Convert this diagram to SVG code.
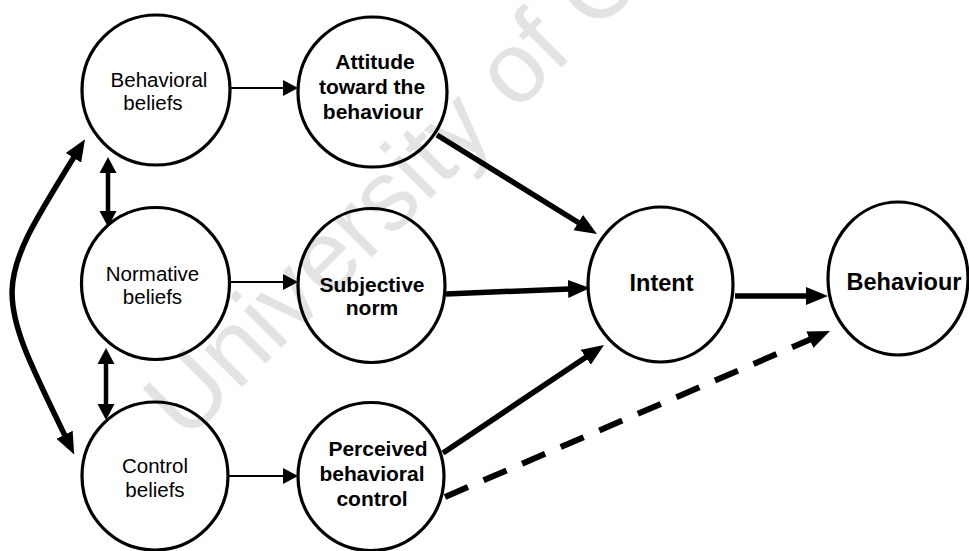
<svg xmlns="http://www.w3.org/2000/svg" width="969" height="551" viewBox="0 0 969 551">
<style>
.node ellipse{fill:none;stroke:#000;stroke-width:3.2}
.reg{font-family:"Liberation Sans",Arial,sans-serif;font-size:20.5px;fill:#000;text-anchor:middle}
.bold{font-family:"Liberation Sans",Arial,sans-serif;font-size:21px;font-weight:bold;fill:#000;text-anchor:middle}
.big{font-size:23.5px}
.thin{stroke:#000;stroke-width:2;fill:none;marker-end:url(#hs)}
.thick{stroke:#000;stroke-width:5.5;fill:none;marker-end:url(#hl)}
.dash{stroke-dasharray:25 17;stroke-width:6}
.dbl{stroke:#000;stroke-width:4.5;fill:none;marker-start:url(#hd);marker-end:url(#hd)}
.curve{stroke:#000;stroke-width:5.5;fill:none;marker-start:url(#hc);marker-end:url(#hc)}
.wm{font-family:"Liberation Sans",Arial,sans-serif;font-size:100px;fill:#e3e3e3}
</style>
<defs>
<marker id="hs" markerUnits="userSpaceOnUse" viewBox="0 -9 16 18" refX="1" refY="0" markerWidth="16" markerHeight="18" orient="auto"><path d="M0,-8 L15,0 L0,8 z"/></marker>
<marker id="hl" markerUnits="userSpaceOnUse" viewBox="0 -10 23 20" refX="1" refY="0" markerWidth="23" markerHeight="20" orient="auto"><path d="M0,-9 L22,0 L0,9 z"/></marker>
<marker id="hd" markerUnits="userSpaceOnUse" viewBox="0 -9 17 18" refX="1" refY="0" markerWidth="17" markerHeight="18" orient="auto-start-reverse"><path d="M0,-8.5 L16,0 L0,8.5 z"/></marker>
<marker id="hc" markerUnits="userSpaceOnUse" viewBox="0 -10 23 20" refX="1" refY="0" markerWidth="23" markerHeight="20" orient="auto-start-reverse"><path d="M0,-9 L22,0 L0,9 z"/></marker>
</defs>
<rect width="969" height="551" fill="#fff"/>
<text class="wm" transform="translate(186,443) rotate(-45)">University of C</text>

<g id="connectors">
<path class="thin" d="M229,88 H284"/>
<path class="thin" d="M229,282 H284"/>
<path class="thin" d="M227,476 H284"/>
<path class="thick" d="M437,135 L579.1,223"/>
<path class="thick" d="M446,294 L569,288.9"/>
<path class="thick" d="M443,453 L586.6,356.7"/>
<path class="thick" d="M735,296 H807"/>
<path class="thick dash" d="M445,497 L810.7,339.3"/>
<path class="dbl" d="M108,172 V212"/>
<path class="dbl" d="M106,363 V405"/>
<path class="curve" d="M74,157 C-7,288 -7,288 65,435.6"/>
</g>

<g id="behavioral-beliefs" class="node">
<ellipse cx="156" cy="90" rx="74" ry="75"/>
<text class="reg" x="159" y="87">Behavioral</text>
<text class="reg" x="153" y="110">beliefs</text>
</g>
<g id="normative-beliefs" class="node">
<ellipse cx="155.5" cy="283.5" rx="74" ry="76"/>
<text class="reg" x="152.5" y="281">Normative</text>
<text class="reg" x="152.5" y="304">beliefs</text>
</g>
<g id="control-beliefs" class="node">
<ellipse cx="155" cy="476" rx="73" ry="74"/>
<text class="reg" x="155" y="473">Control</text>
<text class="reg" x="155" y="497">beliefs</text>
</g>
<g id="attitude" class="node">
<ellipse cx="372.5" cy="92" rx="74.5" ry="75"/>
<text class="bold" x="375" y="69">Attitude</text>
<text class="bold" x="372" y="94">toward the</text>
<text class="bold" x="373" y="119">behaviour</text>
</g>
<g id="subjective-norm" class="node">
<ellipse cx="371.5" cy="285.5" rx="73.5" ry="77"/>
<text class="bold" x="372" y="292">Subjective</text>
<text class="bold" x="372" y="315">norm</text>
</g>
<g id="perceived-behavioral-control" class="node">
<ellipse cx="371" cy="476.5" rx="73" ry="74"/>
<text class="bold" x="378" y="456">Perceived</text>
<text class="bold" x="372" y="481">behavioral</text>
<text class="bold" x="372" y="506">control</text>
</g>
<g id="intent" class="node">
<ellipse cx="660.5" cy="284.5" rx="72.5" ry="77.5"/>
<text class="bold big" x="661.5" y="291">Intent</text>
</g>
<g id="behaviour" class="node">
<ellipse cx="898" cy="278.5" rx="70" ry="76.5"/>
<text class="bold big" x="904" y="290">Behaviour</text>
</g>
</svg>
